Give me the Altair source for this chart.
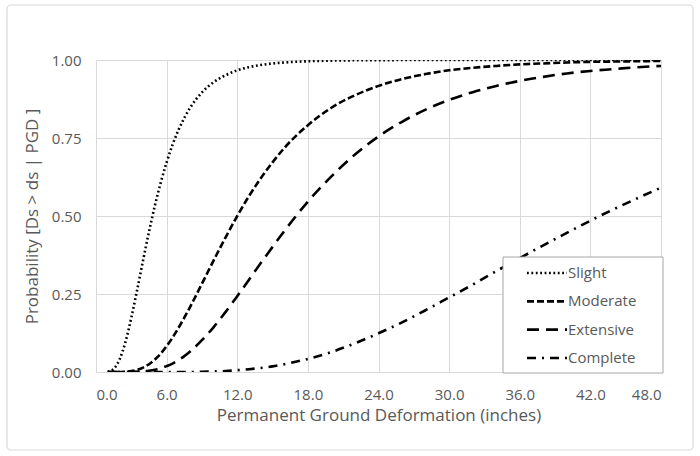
import altair as alt
import pandas as pd

# ---- data ----
pgd = [1, 1.5, 2, 2.5, 3, 3.5, 4, 4.5, 5, 5.5, 6, 6.5, 7, 7.5, 8,
       9, 10, 11, 12, 13, 14, 15, 16,
       18, 20, 22, 24, 26, 28, 30, 32, 34, 36, 38, 40, 42, 44, 46, 48]

slight = [0.001, 0.010, 0.040, 0.096, 0.174, 0.264, 0.358, 0.449, 0.533, 0.607,
          0.672, 0.728, 0.775, 0.814, 0.847,
          0.896, 0.929, 0.951, 0.967, 0.977, 0.984, 0.989, 0.992,
          0.996, 0.998, 0.999, 0.999, 1.000, 1.000, 1.000, 1.000, 1.000, 1.000,
          1.000, 1.000, 1.000, 1.000, 1.000, 1.000]

moderate = [0.000, 0.000, 0.000, 0.001, 0.003, 0.007, 0.014, 0.025, 0.040, 0.059,
            0.083, 0.110, 0.141, 0.174, 0.209,
            0.283, 0.358, 0.431, 0.500, 0.564, 0.621, 0.672, 0.718,
            0.791, 0.847, 0.887, 0.917, 0.939, 0.955, 0.967, 0.975, 0.981, 0.986,
            0.989, 0.992, 0.994, 0.995, 0.996, 0.997]

extensive = [0.000, 0.000, 0.000, 0.000, 0.000, 0.001, 0.002, 0.004, 0.007, 0.012,
             0.019, 0.027, 0.038, 0.051, 0.066,
             0.102, 0.144, 0.192, 0.243, 0.296, 0.349, 0.401, 0.452,
             0.546, 0.627, 0.697, 0.755, 0.802, 0.841, 0.872, 0.897, 0.917, 0.933,
             0.946, 0.957, 0.965, 0.971, 0.977, 0.981]

complete = [0.000, 0.000, 0.000, 0.000, 0.000, 0.000, 0.000, 0.000, 0.000, 0.000,
            0.000, 0.000, 0.000, 0.000, 0.000,
            0.001, 0.002, 0.003, 0.006, 0.009, 0.013, 0.018, 0.025,
            0.042, 0.064, 0.092, 0.124, 0.159, 0.198, 0.239, 0.280, 0.323, 0.365,
            0.406, 0.446, 0.485, 0.522, 0.557, 0.591]

series_names = ["Slight", "Moderate", "Extensive", "Complete"]
x_ticks = [0, 6, 12, 18, 24, 30, 36, 42, 48]
y_ticks = [0, 0.25, 0.5, 0.75, 1.0]

# ---- build tables ----
rows = []
for name, vals in zip(series_names, [slight, moderate, extensive, complete]):
    for xv, yv in zip(pgd, vals):
        rows.append({"pgd": xv, "p": yv, "series": name})
df = pd.DataFrame(rows)
legend_df = pd.DataFrame({"series": series_names})
one = pd.DataFrame({"k": [0]})

FONT = "Open Sans"
GRAY = "#595959"
GRID = "#d9d9d9"

axis_style = dict(labelFont=FONT, labelFontSize=15, labelColor=GRAY,
                  titleFont=FONT, titleFontSize=17, titleColor=GRAY,
                  titleFontWeight="normal", grid=True, gridColor=GRID,
                  domain=False, ticks=False)

dash_scale = alt.Scale(domain=series_names,
                       range=[[1.8, 2.6], [7, 3], [12, 7], [9, 6, 2, 6]])

border = alt.Chart(one).mark_rect(
    fill="white", fillOpacity=0, stroke=GRID, strokeWidth=1.2, cornerRadius=4
).encode(x=alt.value(-89), x2=alt.value(597), y=alt.value(-55), y2=alt.value(390))

lines = alt.Chart(df).mark_line(
    color="black", strokeWidth=2.6, interpolate="monotone", clip=True
).encode(
    x=alt.X("pgd:Q",
            scale=alt.Scale(domain=[0, 48], nice=False),
            axis=alt.Axis(values=x_ticks, format=".1f", labelPadding=15,
                          title="Permanent Ground Deformation (inches)",
                          titlePadding=5, **axis_style)),
    y=alt.Y("p:Q",
            scale=alt.Scale(domain=[0, 1], nice=False),
            axis=alt.Axis(values=y_ticks, format=".2f", labelPadding=15,
                          title="Probability [Ds > ds | PGD ]",
                          titlePadding=10, **axis_style)),
    strokeDash=alt.StrokeDash("series:N", scale=dash_scale, legend=None),
    detail="series:N",
)

legend_box = alt.Chart(one).mark_rect(
    fill="white", stroke="#a6a6a6", strokeWidth=1
).encode(x=alt.value(407), x2=alt.value(567), y=alt.value(197), y2=alt.value(313))

leg_y = alt.Y("series:N",
              scale=alt.Scale(type="point", domain=series_names, range=[213, 298], padding=0),
              axis=None)

legend_lines = alt.Chart(legend_df).mark_rule(
    color="black", strokeWidth=2.6
).encode(
    x=alt.value(431), x2=alt.value(471), y=leg_y,
    strokeDash=alt.StrokeDash("series:N", scale=dash_scale, legend=None),
)

legend_text = alt.Chart(legend_df).mark_text(
    align="left", baseline="middle", font=FONT, fontSize=15, color=GRAY
).encode(x=alt.value(472), y=leg_y, text="series:N")

legend = alt.layer(legend_box, legend_lines, legend_text)

chart = alt.layer(border, lines, legend).resolve_scale(y="independent").properties(
    width=565, height=312,
    background="white",
    autosize=alt.AutoSizeParams(type="none"),
    padding={"left": 96, "top": 60, "right": 39, "bottom": 84},
).configure_view(stroke=None)

chart.save("out.html", embed_options={"renderer": "svg", "actions": False})
